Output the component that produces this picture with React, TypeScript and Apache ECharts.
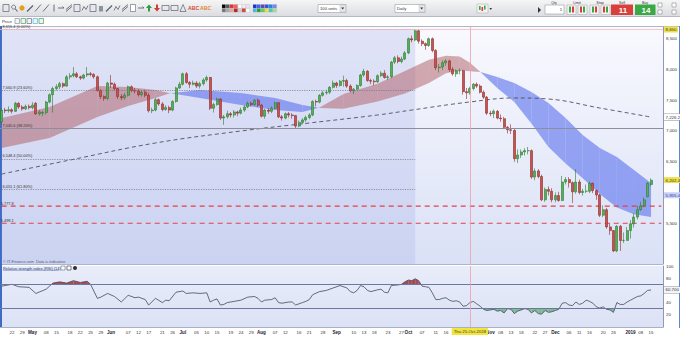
import React, { useEffect, useRef } from 'react';
import * as echarts from 'echarts';

const FONT = 'Liberation Sans, Arial, Helvetica, sans-serif';

// ---------- categories (trading days) ----------
function buildDates(count: number): string[] {
  const out: string[] = [];
  const d = new Date(Date.UTC(2018, 3, 17));
  const skip = new Set(['2018-12-25', '2019-01-01']);
  while (out.length < count) {
    const wd = d.getUTCDay();
    const s = d.toISOString().slice(0, 10);
    if (wd !== 0 && wd !== 6 && !skip.has(s)) out.push(s);
    d.setUTCDate(d.getUTCDate() + 1);
  }
  return out;
}
const N_CATS = 194;
const dates = buildDates(N_CATS);

// ---------- price candles [open, close, low, high] ----------
const candles: number[][] = [
  // Apr
  [7150, 7340, 7120, 7365], [7340, 7330, 7290, 7375], [7330, 7345, 7300, 7400], [7345, 7320, 7285, 7370],
  [7320, 7450, 7310, 7475], [7450, 7390, 7360, 7470], [7390, 7360, 7330, 7420], [7360, 7400, 7340, 7430],
  [7400, 7380, 7350, 7430], [7380, 7420, 7350, 7470],
  // May
  [7450, 7280, 7260, 7470], [7280, 7310, 7250, 7340], [7290, 7300, 7240, 7330], [7300, 7470, 7270, 7490],
  [7470, 7590, 7450, 7610], [7590, 7690, 7300, 7720], [7690, 7720, 7660, 7760], [7720, 7770, 7680, 7800],
  [7770, 7730, 7700, 7790], [7730, 7880, 7720, 7910], [7880, 7900, 7840, 7940], [7900, 7930, 7870, 8040],
  [7930, 7880, 7860, 7960], [7880, 7860, 7830, 7900], [7860, 7910, 7840, 7930], [7910, 7930, 7880, 8040],
  [7930, 7920, 7890, 7960], [7920, 7880, 7850, 7940], [7880, 7660, 7640, 7900], [7660, 7560, 7520, 7680],
  [7560, 7530, 7490, 7580], [7530, 7780, 7500, 7800], [7780, 7760, 7700, 7910],
  // Jun
  [7760, 7690, 7660, 7790], [7690, 7560, 7520, 7700], [7560, 7540, 7500, 7600], [7540, 7580, 7510, 7620],
  [7580, 7720, 7560, 7740], [7720, 7660, 7630, 7740], [7660, 7650, 7610, 7700], [7650, 7590, 7560, 7680],
  [7590, 7630, 7560, 7660], [7630, 7580, 7550, 7670], [7580, 7330, 7300, 7620], [7330, 7340, 7290, 7380],
  [7340, 7510, 7320, 7540], [7510, 7440, 7410, 7530], [7440, 7350, 7320, 7470], [7350, 7380, 7330, 7420],
  [7380, 7340, 7290, 7410], [7340, 7480, 7320, 7500], [7480, 7700, 7460, 7720], [7700, 7760, 7680, 7800],
  [7760, 7930, 7740, 7950],
  // Jul
  [7930, 7790, 7770, 7960], [7790, 7760, 7700, 7810], [7760, 7780, 7740, 7820], [7780, 7730, 7700, 7810],
  [7730, 7770, 7690, 7800], [7770, 7830, 7740, 7860], [7830, 7870, 7800, 7900], [7870, 7370, 7340, 7880],
  [7370, 7430, 7300, 7460], [7430, 7520, 7410, 7540], [7520, 7210, 7180, 7530], [7210, 7230, 7100, 7260],
  [7230, 7280, 7200, 7330], [7280, 7260, 7220, 7310], [7260, 7310, 7220, 7340], [7310, 7290, 7240, 7330],
  [7290, 7340, 7270, 7380], [7340, 7390, 7310, 7420], [7390, 7450, 7370, 7480], [7450, 7430, 7400, 7480],
  [7430, 7500, 7410, 7520], [7500, 7420, 7390, 7530],
  // Aug
  [7420, 7240, 7220, 7440], [7240, 7340, 7200, 7360], [7340, 7320, 7280, 7370], [7320, 7370, 7290, 7400],
  [7370, 7460, 7350, 7480], [7460, 7230, 7210, 7470], [7230, 7210, 7170, 7260], [7210, 7280, 7190, 7300],
  [7280, 7260, 7220, 7310], [7260, 7250, 7200, 7290], [7250, 7080, 7040, 7260], [7080, 7140, 7060, 7170],
  [7140, 7180, 7110, 7210], [7180, 7220, 7150, 7250], [7220, 7260, 7190, 7290], [7260, 7480, 7240, 7500],
  [7480, 7470, 7400, 7510], [7470, 7580, 7450, 7600], [7580, 7620, 7560, 7650], [7620, 7630, 7590, 7670],
  [7630, 7710, 7600, 7730], [7710, 7780, 7690, 7820], [7780, 7740, 7700, 7800],
  // Sep
  [7740, 7810, 7720, 7830], [7810, 7820, 7720, 7900], [7820, 7730, 7700, 7850], [7730, 7650, 7630, 7760],
  [7650, 7680, 7600, 7700], [7680, 7740, 7660, 7760], [7740, 7910, 7720, 7930], [7910, 7970, 7880, 8010],
  [7970, 7820, 7800, 7990], [7820, 7810, 7760, 7850], [7810, 7800, 7740, 7840], [7800, 7900, 7780, 7920],
  [7900, 7940, 7880, 7970], [7940, 7870, 7850, 7990], [7870, 7880, 7830, 7910], [7880, 8120, 7860, 8140],
  [8120, 8190, 8090, 8220], [8190, 8130, 8100, 8230], [8130, 8170, 8100, 8210], [8170, 8270, 8150, 8300],
  // Oct
  [8270, 8500, 8250, 8520], [8500, 8480, 8440, 8550], [8480, 8630, 8460, 8660], [8630, 8460, 8420, 8650],
  [8460, 8420, 8380, 8490], [8420, 8390, 8320, 8440], [8390, 8500, 8370, 8520], [8500, 8310, 8280, 8520],
  [8310, 8030, 7990, 8330], [8030, 8040, 7950, 8090], [8040, 8110, 7990, 8150], [8110, 8140, 8060, 8170],
  [8140, 8000, 7960, 8160], [8000, 7930, 7900, 8040], [7930, 7980, 7880, 8000], [7980, 7980, 7920, 8020],
  [7980, 7640, 7590, 8000], [7640, 7620, 7520, 7700], [7620, 7690, 7590, 7720], [7690, 7760, 7660, 7780],
  [7760, 7730, 7700, 7790], [7730, 7630, 7610, 7760], [7630, 7550, 7520, 7660],
  // Nov
  [7550, 7290, 7260, 7570], [7290, 7280, 7240, 7330], [7280, 7320, 7210, 7350], [7320, 7210, 7190, 7340],
  [7210, 7200, 7150, 7270], [7200, 7060, 7030, 7230], [7060, 7020, 6960, 7080], [7020, 7010, 6950, 7110],
  [7010, 6550, 6500, 7030], [6550, 6610, 6480, 6700], [6610, 6660, 6560, 6700], [6660, 6680, 6600, 6720],
  [6680, 6680, 6620, 6740], [6680, 6250, 6220, 6700], [6250, 6350, 6200, 6390], [6350, 6260, 6230, 6380],
  [6260, 5880, 5860, 6290], [5880, 6050, 5850, 6080], [6050, 6020, 5950, 6100], [6020, 5880, 5840, 6070],
  [5880, 5950, 5840, 6000], [5950, 5870, 5850, 6010],
  // Dec
  [5870, 6170, 5860, 6270], [6170, 6210, 6130, 6250], [6210, 6160, 6080, 6250], [6160, 6010, 5830, 6180],
  [6010, 6170, 5980, 6380], [6170, 6000, 5970, 6210], [6000, 6020, 5950, 6060], [6020, 6020, 5990, 6130],
  [6020, 6150, 5990, 6180], [6150, 6030, 5990, 6160], [6030, 5960, 5880, 6050], [5960, 5630, 5600, 5980],
  [5630, 5720, 5600, 5790], [5720, 5440, 5410, 5750], [5440, 5380, 5310, 5500], [5380, 5050, 5030, 5390],
  [5050, 5450, 5030, 5470], [5450, 5220, 5050, 5470], [5220, 5220, 5180, 5350], [5220, 5380, 5220, 5440],
  // Jan 2019
  [5380, 5490, 5250, 5550], [5490, 5600, 5430, 5660], [5600, 5720, 5560, 5780], [5720, 5780, 5700, 5850],
  [5780, 5880, 5760, 5920], [5930, 6150, 5920, 6170], [6130, 6200, 6100, 6230],
];

// ---------- indicators (read at trading-day index) ----------
const ma200Pts: [number, number][] = [
  [0, 6300], [20, 6528], [45, 6805], [70, 7000], [90, 7130], [110, 7260], [120, 7341],
  [137, 7472], [150, 7537], [160, 7520], [175, 7374], [190, 7226.2],
];
// [index, fast line, slow line]
const bandPts: [number, number, number][] = [
  [0, 7211, 6724], [14, 7390, 6886], [28, 7732, 7228], [37, 7715, 7407], [45, 7667, 7537],
  [49, 7618, 7610], [58, 7537, 7667], [70, 7423, 7618], [80, 7341, 7537], [88, 7309, 7423],
  [93, 7380, 7374], [100, 7600, 7360], [110, 7770, 7480], [118, 7975, 7610], [125, 8160, 7780],
  [130, 8225, 7940], [134, 8210, 7985], [137, 8110, 7972], [140, 7962, 7959], [145, 7699, 7878],
  [150, 7472, 7780], [155, 7120, 7634], [160, 6740, 7455], [165, 6470, 7211], [170, 6230, 6935],
  [175, 5975, 6724], [180, 5755, 6577], [185, 5645, 6366], [190, 5600, 6154],
];
const rsiPts: [number, number][] = [
  [0, 67], [3, 70], [5, 66], [8, 65], [10, 55], [13, 62], [15, 72], [17, 74], [19, 72], [21, 76],
  [23, 73], [25, 75], [26, 70], [28, 47], [29, 49], [31, 55], [33, 50], [35, 41], [37, 52], [39, 48],
  [40, 49], [42, 45], [43, 36], [45, 47], [47, 40], [48, 44], [49, 43], [51, 57], [53, 59], [54, 55],
  [56, 56], [58, 55], [60, 56], [61, 41], [62, 44], [63, 46], [64, 36], [65, 37], [66, 40], [68, 42],
  [70, 44], [72, 49], [74, 50], [75, 47], [76, 41], [77, 44], [79, 45], [80, 48], [81, 40], [82, 39],
  [84, 41], [85, 41], [86, 36], [87, 38], [88, 40], [89, 42], [90, 45], [91, 53], [93, 58], [95, 60],
  [97, 64], [99, 68], [101, 64], [102, 58], [103, 56], [104, 60], [105, 68], [106, 66], [107, 60],
  [108, 58], [110, 61], [111, 62], [112, 57], [113, 56], [114, 68], [116, 69], [117, 70], [118, 74],
  [119, 77], [120, 76], [121, 79], [122, 76], [123, 67], [124, 66], [125, 65], [126, 56], [127, 45],
  [128, 45], [129, 47], [130, 48], [131, 44], [132, 42], [133, 43], [134, 41], [135, 34], [136, 35],
  [137, 40], [138, 42], [139, 38], [140, 34], [141, 29], [142, 27], [143, 28], [144, 29], [145, 26],
  [146, 27], [147, 23], [148, 30], [149, 29], [150, 22], [151, 26], [152, 28], [153, 30], [154, 29],
  [155, 23], [156, 27], [157, 22], [158, 21], [159, 27], [160, 24], [161, 25], [162, 27], [163, 29],
  [164, 39], [165, 40], [166, 36], [167, 35], [168, 41], [169, 37], [170, 39], [171, 44], [172, 42],
  [173, 39], [174, 33], [175, 31], [176, 33], [177, 29], [178, 28], [179, 24], [180, 40], [181, 37],
  [182, 37], [183, 41], [184, 44], [185, 47], [186, 50], [187, 51], [188, 55], [189, 60], [190, 60.7],
];

const fibLevels: [number, string][] = [
  [8655.4, '8,655.4 (0.00%)'],
  [7660.9, '7,660.9 (23.60%)'],
  [7045.6, '7,045.6 (38.20%)'],
  [6548.4, '6,548.4 (50.00%)'],
  [6051.1, '6,051.1 (61.80%)'],
];
const FIB_END_IDX = 121;
const supportLevel = 7045.6;
const redLevels: [number, string][] = [[5777.8, '5,777.8'], [5499.1, '5,499.1']];
const priceTicks = [5500, 6500, 7000, 7500, 8000, 8500];
const rsiTicks = [20, 40, 80, 100];
const rsiBands = [70, 30];
const crossIdx = 137;
const crossLabel = 'Thu 25-Oct-2018';
const crossPrice = 8650;
const lastPrice = 6202.4;
const maLast = 7226.2;
const cloudLast = 5955.4;
const rsiLast = 60.7;
const xTickLabels: [number, string][] = [
  [3, '22'], [6, '29'], [9, 'May'], [13, '08'], [16, '15'], [20, '18'], [23, '22'], [26, '25'], [29, '29'],
  [32, 'Jun'], [37, '07'], [40, '12'], [43, '17'], [47, '21'], [50, '26'], [53, 'Jul'], [57, '05'],
  [60, '10'], [63, '15'], [67, '19'], [70, '24'], [73, '29'], [76, 'Aug'], [80, '07'], [83, '12'],
  [87, '16'], [90, '21'], [94, '28'], [98, 'Sep'], [103, '10'], [106, '13'], [109, '18'], [113, '23'],
  [117, '27'], [119, 'Oct'], [123, '07'], [127, '11'], [130, '16'], [143, 'Nov'], [146, '08'],
  [149, '13'], [152, '18'], [156, '22'], [159, '27'], [162, 'Dec'], [166, '06'], [169, '11'],
  [172, '16'], [176, '20'], [179, '26'], [184, '2019'], [187, '08'], [190, '15'],
];
const boldTicks = new Set(['May', 'Jun', 'Jul', 'Aug', 'Sep', 'Oct', 'Nov', 'Dec', '2019']);

// ---------- toolbar layout ----------
const toolIcons: [number, string, string?][] = [
  [3, 'box'], [11, 'mag'], [19, 'star', '#e0a020'], [27, 'pen'], [35, 'diag'], [43, 'diag'], [51, 'vline'],
  [58, 'hline'], [66, 'chan'], [74, 'box'], [82, 'zig'], [90, 'box'], [98, 'trash'], [106, 'pen'],
  [114, 'zig'], [122, 'chan'], [130, 'doc'], [138, 'hline'], [146, 'up', '#2e9e3e'], [154, 'down', '#d23a3a'],
  [162, 'rect'], [171, 'rect'], [180, 'tri'], [188, 'abc', '#d84a3a'], [200, 'abc', '#e08a2a'],
];
const pal1 = [['#000000', '#555555', '#e03030', '#f06060', '#ffffff', '#f0f0f0', '#e8e8e8'],
  ['#777777', '#aaaaaa', '#f4a0a0', '#c02020', '#d0d0d0', '#e04040', '#ffffff']];
const pal2 = [['#2030d0', '#4060f0', '#6040c0', '#3050e0', '#2080f0', '#8080f0'],
  ['#40c0e0', '#20a040', '#60d060', '#f0e040', '#40d0c0', '#a0e0a0']];

function toolIcon(x: number, k: string, c?: string): any[] {
  const col = c || '#5d6372';
  const y = 4.5;
  const ln = (x1: number, y1: number, x2: number, y2: number, w = 0.9) =>
    ({ type: 'line', shape: { x1, y1, x2, y2 }, style: { stroke: col, lineWidth: w } });
  switch (k) {
    case 'box': return [{ type: 'rect', shape: { x, y, width: 6, height: 7 }, style: { fill: '#e6e8ee', stroke: col, lineWidth: 0.7 } }];
    case 'mag': return [{ type: 'circle', shape: { cx: x + 2.6, cy: y + 2.6, r: 2 }, style: { fill: 'none', stroke: col, lineWidth: 0.8 } }, ln(x + 4, y + 4, x + 6.5, y + 7, 1.1)];
    case 'star': return [{ type: 'circle', shape: { cx: x + 3, cy: y + 3.5, r: 2.6 }, style: { fill: col } }];
    case 'pen': return [ln(x, y + 7, x + 6, y + 1, 1.3)];
    case 'diag': return [ln(x, y + 7, x + 6, y, 0.9)];
    case 'vline': return [ln(x + 3, y, x + 3, y + 7)];
    case 'hline': return [ln(x, y + 3.5, x + 6, y + 3.5), ln(x + 4.5, y + 2, x + 6, y + 3.5)];
    case 'chan': return [ln(x, y + 5, x + 6, y), ln(x, y + 7, x + 6, y + 2)];
    case 'zig': return [{ type: 'polyline', shape: { points: [[x, y + 6], [x + 2, y + 2], [x + 4, y + 5], [x + 6, y + 1]] }, style: { stroke: col, lineWidth: 0.8, fill: 'none' } }];
    case 'trash': return [{ type: 'rect', shape: { x: x + 1, y: y + 1.5, width: 4, height: 5.5 }, style: { fill: '#8d93a0' } }];
    case 'doc': return [{ type: 'rect', shape: { x: x + 0.5, y, width: 5, height: 7 }, style: { fill: '#fff', stroke: col, lineWidth: 0.6 } }];
    case 'up': return [{ type: 'polygon', shape: { points: [[x + 3, y], [x + 6, y + 3.5], [x + 4, y + 3.5], [x + 4, y + 7], [x + 2, y + 7], [x + 2, y + 3.5], [x, y + 3.5]] }, style: { fill: col } }];
    case 'down': return [{ type: 'polygon', shape: { points: [[x + 3, y + 7], [x + 6, y + 3.5], [x + 4, y + 3.5], [x + 4, y], [x + 2, y], [x + 2, y + 3.5], [x, y + 3.5]] }, style: { fill: col } }];
    case 'rect': return [{ type: 'rect', shape: { x, y: y + 1, width: 7, height: 5 }, style: { fill: 'none', stroke: col, lineWidth: 0.7 } }];
    case 'tri': return [{ type: 'polygon', shape: { points: [[x + 3, y], [x + 6, y + 7], [x, y + 7]] }, style: { fill: 'none', stroke: col, lineWidth: 0.7 } }];
    case 'abc': return [{ type: 'text', x, y: y + 3.5, style: { text: 'ABC', fontSize: 5.2, fontWeight: 'bold', fill: col, fontFamily: FONT, textVerticalAlign: 'middle' } }];
    default: return [];
  }
}

function buildGraphics(): any[] {
  const g: any[] = [];
  g.push({ type: 'rect', shape: { x: 0, y: 0, width: 680, height: 16 }, style: { fill: new echarts.graphic.LinearGradient(0, 0, 0, 1, [{ offset: 0, color: '#f5f5f6' }, { offset: 1, color: '#dcdde1' }]) } });
  g.push({ type: 'line', shape: { x1: 0, y1: 16.5, x2: 680, y2: 16.5 }, style: { stroke: '#b5b9c4', lineWidth: 1 } });
  toolIcons.forEach(([x, k, c]) => g.push(...toolIcon(x, k, c)));
  pal1.forEach((row, r) => row.forEach((col, i) => g.push({ type: 'rect', shape: { x: 222 + i * 4, y: 4.5 + r * 4, width: 3.6, height: 3.6 }, style: { fill: col, stroke: '#999', lineWidth: 0.2 } })));
  pal2.forEach((row, r) => row.forEach((col, i) => g.push({ type: 'rect', shape: { x: 253 + i * 4, y: 4.5 + r * 4, width: 3.6, height: 3.6 }, style: { fill: col, stroke: '#999', lineWidth: 0.2 } })));
  const dropdown = (x: number, w: number, text: string) => {
    g.push({ type: 'rect', shape: { x, y: 4.5, width: w, height: 8 }, style: { fill: '#ffffff', stroke: '#9a9da6', lineWidth: 0.6 } });
    g.push({ type: 'text', x: x + 2, y: 8.6, style: { text, fontSize: 4.2, fill: '#333', fontFamily: FONT, textVerticalAlign: 'middle' } });
    g.push({ type: 'rect', shape: { x: x + w - 6, y: 5, width: 5.5, height: 7 }, style: { fill: '#e6e7ea', stroke: '#b0b3bb', lineWidth: 0.4 } });
    g.push({ type: 'polygon', shape: { points: [[x + w - 4.8, 7.5], [x + w - 1.8, 7.5], [x + w - 3.3, 9.5]] }, style: { fill: '#333' } });
  };
  dropdown(318, 28, '100 units');
  dropdown(395, 30, 'Daily');
  // chart-type icon
  g.push({ type: 'rect', shape: { x: 477, y: 4, width: 11, height: 9 }, style: { fill: '#f2f2f2', stroke: '#a7aab2', lineWidth: 0.5 } });
  [[479, '#3aa845', 6, 10], [481.5, '#d9403a', 7, 11], [484, '#3aa845', 5.5, 9.5]].forEach(([x, c, y1, y2]: any) =>
    g.push({ type: 'rect', shape: { x, y: y1, width: 1.6, height: y2 - y1 }, style: { fill: c } }));
  g.push({ type: 'polygon', shape: { points: [[489.5, 8], [492, 8], [490.75, 10]] }, style: { fill: '#333' } });
  // deal ticket
  const small = (x: number, y: number, text: string) => g.push({ type: 'text', x, y, style: { text, fontSize: 3.6, fill: '#333', fontFamily: FONT, textAlign: 'center', textVerticalAlign: 'middle' } });
  g.push({ type: 'polygon', shape: { points: [[538, 7], [541, 10], [538, 13]] }, style: { fill: '#333' } });
  small(554, 2.5, 'Qty');
  g.push({ type: 'rect', shape: { x: 545, y: 5, width: 19, height: 9 }, style: { fill: '#fff', stroke: '#9a9da6', lineWidth: 0.6 } });
  g.push({ type: 'text', x: 562, y: 9.6, style: { text: '1', fontSize: 4.2, fill: '#333', fontFamily: FONT, textAlign: 'right', textVerticalAlign: 'middle' } });
  small(577, 2.5, 'Limit');
  small(600, 2.5, 'Stop');
  [567, 578, 590, 601].forEach((x, i) => {
    g.push({ type: 'rect', shape: { x, y: 5, width: 9, height: 9.5 }, style: { fill: '#f4f4f5', stroke: '#a0a3ab', lineWidth: 0.5 } });
    g.push({ type: 'rect', shape: { x: x + 2, y: 6.5, width: 2, height: 6 }, style: { fill: i % 2 ? '#d9403a' : '#3aa845' } });
    g.push({ type: 'rect', shape: { x: x + 5, y: 6.5, width: 2, height: 6 }, style: { fill: i % 2 ? '#3aa845' : '#d9403a' } });
  });
  small(622, 2.5, 'Sell');
  small(645, 2.5, 'Buy');
  g.push({ type: 'rect', shape: { x: 611, y: 4.5, width: 22, height: 10.5 }, style: { fill: '#d8413b' } });
  g.push({ type: 'rect', shape: { x: 635, y: 4.5, width: 20.5, height: 10.5 }, style: { fill: '#3aa845' } });
  g.push({ type: 'text', x: 623, y: 10, style: { text: '11', fontSize: 8, fontWeight: 'bold', fill: '#fff', fontFamily: FONT, textAlign: 'center', textVerticalAlign: 'middle' } });
  g.push({ type: 'text', x: 646, y: 10, style: { text: '14', fontSize: 8, fontWeight: 'bold', fill: '#fff', fontFamily: FONT, textAlign: 'center', textVerticalAlign: 'middle' } });
  [[658, 3], [658, 10], [672, 3], [672, 10]].forEach(([x, y]) =>
    g.push({ type: 'rect', shape: { x, y, width: 4, height: 4 }, style: { fill: '#fff', stroke: '#777', lineWidth: 0.5 } }));
  // price row
  g.push({ type: 'text', x: 2, y: 21.3, style: { text: 'Price', fontSize: 4.3, fill: '#333', fontFamily: FONT, textVerticalAlign: 'middle' } });
  [[15, '#8d93a0'], [21, '#4aa05a'], [27, '#6a7080'], [33, '#58b7d8'], [39, '#4aa05a']].forEach(([x, c]: any) =>
    g.push({ type: 'rect', shape: { x, y: 18.5, width: 4.5, height: 5 }, style: { fill: '#f2f3f6', stroke: c, lineWidth: 0.7 } }));
  // frame lines
  g.push({ type: 'line', shape: { x1: 0, y1: 26.5, x2: 680, y2: 26.5 }, style: { stroke: '#b2b7c7', lineWidth: 1 } });
  g.push({ type: 'line', shape: { x1: 0, y1: 264.5, x2: 663, y2: 264.5 }, style: { stroke: '#aeb4cc', lineWidth: 1 } });
  g.push({ type: 'rect', shape: { x: 0, y: 26, width: 2, height: 302 }, style: { fill: '#3e6cc4' } });
  g.push({ type: 'line', shape: { x1: 679.5, y1: 26, x2: 679.5, y2: 328 }, style: { stroke: '#5b86d6', lineWidth: 1 } });
  // footer/header texts
  g.push({ type: 'text', x: 3, y: 261.2, style: { text: '© IT-Finance.com  Data is indicative', fontSize: 3.9, fill: '#333', fontFamily: FONT, textVerticalAlign: 'middle' } });
  g.push({ type: 'text', x: 3, y: 268, style: { text: 'Relative strength index (RSI) (14)', fontSize: 3.9, fill: '#253a84', fontFamily: FONT, textVerticalAlign: 'middle' } });
  g.push({ type: 'line', shape: { x1: 3, y1: 270.3, x2: 59, y2: 270.3 }, style: { stroke: '#253a84', lineWidth: 0.4 } });
  [[61, '#6a7080'], [67, '#333'], [73, '#333']].forEach(([x, c]: any, i) =>
    i === 2
      ? g.push({ type: 'circle', shape: { cx: x + 2, cy: 268, r: 2 }, style: { fill: c } })
      : g.push({ type: 'rect', shape: { x, y: 266, width: 4, height: 4 }, style: { fill: '#fff', stroke: c, lineWidth: 0.6 } }));
  return g;
}

function buildOption(): any {
  const labelMap = new Map(xTickLabels);
  const maData = ma200Pts.map(([i, v]) => [dates[i], v]);
  const rsiData = rsiPts.map(([i, v]) => [dates[i], v]);
  const RED_BAND = 'rgba(172,84,90,0.48)';
  const BLUE_BAND = 'rgba(112,132,238,0.72)';
  const poly = (pts: number[][], fill: string) => ({ type: 'polygon', shape: { points: pts }, style: { fill } });
  const hidden = { color: 'rgba(0,0,0,0)', width: 0 };
  const endLabel = (text: string, bg: string, color: string, border?: string) => ({
    show: true, position: 'end', formatter: text, backgroundColor: bg, color, fontSize: 4.4,
    padding: [1, 1.5], distance: 1, borderColor: border || bg, borderWidth: border ? 0.5 : 0, fontFamily: FONT,
  });
  const tinyStart = (text: string) => ({
    show: true, position: 'insideStartTop', formatter: text, fontSize: 3.9, color: '#333', distance: 0.8, fontFamily: FONT,
  });

  const bandSeries = {
    type: 'custom', xAxisIndex: 0, yAxisIndex: 0, z: 2, silent: true, clip: true,
    data: bandPts.slice(0, -1).map((p) => [p[0], p[1]]),
    encode: { x: 0, y: 1 },
    renderItem: (params: any, api: any) => {
      const i = params.dataIndex;
      const a = bandPts[i];
      const b = bandPts[i + 1];
      const fa = api.coord([a[0], a[1]]);
      const sa = api.coord([a[0], a[2]]);
      const fb = api.coord([b[0], b[1]]);
      const sb = api.coord([b[0], b[2]]);
      const d0 = a[1] - a[2];
      const d1 = b[1] - b[2];
      const children: any[] = [];
      if (d0 * d1 < 0) {
        const t = d0 / (d0 - d1);
        const c = [fa[0] + t * (fb[0] - fa[0]), fa[1] + t * (fb[1] - fa[1])];
        children.push(poly([fa, c, sa], d0 > 0 ? RED_BAND : BLUE_BAND));
        children.push(poly([c, fb, sb], d1 > 0 ? RED_BAND : BLUE_BAND));
      } else {
        children.push(poly([fa, fb, sb, sa], d0 + d1 > 0 ? RED_BAND : BLUE_BAND));
      }
      return { type: 'group', children };
    },
  };

  const rsiFill = {
    type: 'custom', xAxisIndex: 1, yAxisIndex: 1, z: 2, silent: true,
    data: rsiPts.slice(0, -1).map((p) => [p[0], p[1]]),
    encode: { x: 0, y: 1 },
    renderItem: (params: any, api: any) => {
      const i = params.dataIndex;
      const a = rsiPts[i];
      const b = rsiPts[i + 1];
      const pa = api.coord([a[0], a[1]]);
      const pb = api.coord([b[0], b[1]]);
      const children: any[] = [];
      const addSide = (level: number, above: boolean, fill: string) => {
        const f0 = above ? a[1] - level : level - a[1];
        const f1 = above ? b[1] - level : level - b[1];
        if (f0 <= 0 && f1 <= 0) return;
        const ly = api.coord([a[0], level])[1];
        if (f0 >= 0 && f1 >= 0) {
          children.push(poly([pa, pb, [pb[0], ly], [pa[0], ly]], fill));
          return;
        }
        const t = f0 / (f0 - f1);
        const cx = pa[0] + t * (pb[0] - pa[0]);
        if (f0 > 0) children.push(poly([pa, [cx, ly], [pa[0], ly]], fill));
        else children.push(poly([[cx, ly], pb, [pb[0], ly]], fill));
      };
      addSide(rsiBands[0], true, 'rgba(150,48,54,0.85)');
      addSide(rsiBands[1], false, 'rgba(92,170,110,0.75)');
      return { type: 'group', children };
    },
  };

  // red dashed support lines as their own line series
  const redSeries = redLevels.map(([v, txt]) => ({
    type: 'line', xAxisIndex: 0, yAxisIndex: 0, silent: true, z: 3,
    data: [[dates[0], v], [dates[N_CATS - 1], v]],
    symbol: 'none', showSymbol: false,
    lineStyle: { color: '#e2404b', width: 1.1, type: [5, 4], opacity: 1 },
    markLine: {
      symbol: ['none', 'none'], silent: true, animation: false,
      data: [{ yAxis: v, lineStyle: { color: 'rgba(0,0,0,0)', width: 0 }, label: tinyStart(txt) }],
    },
  }));

  return {
    animation: false,
    backgroundColor: '#ffffff',
    textStyle: { fontFamily: FONT },
    graphic: { elements: buildGraphics() },
    grid: [
      {
        left: 0, top: 27, width: 663, height: 237, show: true, borderWidth: 0,
        backgroundColor: new echarts.graphic.LinearGradient(0, 0, 0, 1, [{ offset: 0, color: '#f9f9fe' }, { offset: 1, color: '#dae1f6' }]),
      },
      {
        left: 0, top: 266, width: 663, height: 61, show: true, borderWidth: 0,
        backgroundColor: new echarts.graphic.LinearGradient(0, 0, 0, 1, [{ offset: 0, color: '#e9ecf9' }, { offset: 1, color: '#dce2f5' }]),
      },
    ],
    xAxis: [
      {
        type: 'category', gridIndex: 0, data: dates, boundaryGap: true,
        axisLine: { show: false }, axisTick: { show: false }, axisLabel: { show: false }, splitLine: { show: false },
      },
      {
        type: 'category', gridIndex: 1, data: dates, boundaryGap: true,
        axisLine: { show: true, lineStyle: { color: '#a9b0c8', width: 1 } }, axisTick: { show: false }, splitLine: { show: false },
        axisLabel: {
          interval: (index: number) => labelMap.has(index),
          formatter: (_v: string, index: number) => {
            const t = labelMap.get(index) || '';
            return boldTicks.has(t) ? `{b|${t}}` : t;
          },
          fontSize: 4.4, color: '#333', margin: 3, fontFamily: FONT,
          rich: { b: { fontWeight: 'bold', fontSize: 4.6, color: '#1d2333', fontFamily: FONT } },
        },
      },
    ],
    yAxis: [
      {
        type: 'value', gridIndex: 0, position: 'right', min: 4837, max: 8691,
        axisLine: { show: true, lineStyle: { color: '#8f98b6' } }, axisTick: { show: false }, splitLine: { show: false },
        axisLabel: { customValues: priceTicks, formatter: (v: number) => v.toLocaleString('en-US'), fontSize: 4.4, color: '#333', margin: 3, fontFamily: FONT },
      },
      {
        type: 'value', gridIndex: 1, position: 'right', min: 0, max: 100,
        axisLine: { show: true, lineStyle: { color: '#8f98b6' } }, axisTick: { show: false }, splitLine: { show: false },
        axisLabel: { customValues: rsiTicks, fontSize: 4.4, color: '#333', margin: 3, fontFamily: FONT },
      },
    ],
    series: [
      bandSeries,
      {
        type: 'line', name: 'MA', xAxisIndex: 0, yAxisIndex: 0, data: maData, smooth: 0.4,
        symbol: 'none', showSymbol: false, silent: true, z: 3,
        lineStyle: { color: '#4b5062', width: 0.9, type: [4, 3] },
        markArea: {
          silent: true, label: { show: false },
          itemStyle: { color: 'rgba(170,180,232,0.30)' },
          data: [[{ coord: [dates[0], fibLevels[0][0]] }, { coord: [dates[FIB_END_IDX], 4837] }]],
        },
        markLine: {
          symbol: ['none', 'none'], silent: true, animation: false,
          label: { show: false },
          data: [
            ...fibLevels.map(([v, txt]) => [
              { coord: [dates[0], v], lineStyle: { color: '#6e7283', width: 0.7, type: [1.2, 1.2] }, label: tinyStart(txt) },
              { coord: [dates[FIB_END_IDX], v], lineStyle: { color: '#6e7283', width: 0.7, type: [1.2, 1.2] } },
            ]),
            { yAxis: supportLevel, lineStyle: { color: '#8b8e9b', width: 1, type: 'solid' } },
            { xAxis: dates[crossIdx], lineStyle: { color: '#eba1a7', width: 0.8, type: 'solid' } },
            { yAxis: crossPrice, lineStyle: { color: '#f2b9be', width: 0.8, type: 'solid' }, label: endLabel('8,650', '#efe24a', '#333') },
            { yAxis: maLast, lineStyle: hidden, label: endLabel('7,226.2', '#ffffff', '#333', '#8a8f9f') },
            { yAxis: lastPrice, lineStyle: hidden, label: endLabel('6,202.4', '#efe24a', '#333') },
            { yAxis: cloudLast, lineStyle: hidden, label: endLabel('5,955.4', '#c9d1f6', '#2f3fae') },
          ],
        },
      },
      ...redSeries,
      {
        type: 'candlestick', name: 'Price', xAxisIndex: 0, yAxisIndex: 0, data: candles, z: 4, silent: true,
        barWidth: 2.5,
        itemStyle: { color: '#52b055', color0: '#c9514e', borderColor: '#2d7a31', borderColor0: '#8b2c29', borderWidth: 0.6 },
      },
      rsiFill,
      {
        type: 'line', name: 'RSI', xAxisIndex: 1, yAxisIndex: 1, data: rsiData, symbol: 'none', showSymbol: false,
        silent: true, z: 4, lineStyle: { color: '#454a5b', width: 0.8 },
        markLine: {
          symbol: ['none', 'none'], silent: true, animation: false, label: { show: false },
          data: [
            ...rsiBands.map((v) => ({ yAxis: v, lineStyle: { color: '#6b78a3', width: 1, type: 'solid' } })),
            {
              xAxis: dates[crossIdx], lineStyle: { color: '#eba1a7', width: 0.8, type: 'solid' },
              label: { show: true, position: 'start', formatter: crossLabel, backgroundColor: '#f1e53e', color: '#333', fontSize: 4.3, padding: [1.5, 2], distance: 1, fontFamily: FONT },
            },
            { yAxis: rsiLast, lineStyle: hidden, label: endLabel('60.700', '#f3f4f8', '#333', '#8a8f9f') },
          ],
        },
      },
    ],
  };
}

export default function App() {
  const ref = useRef<HTMLDivElement>(null);
  useEffect(() => {
    if (!ref.current) return;
    const chart = echarts.init(ref.current, undefined, { renderer: 'svg' });
    chart.setOption(buildOption());
    return () => chart.dispose();
  }, []);
  return (
    <div
      ref={ref}
      style={{ position: 'fixed', left: 0, top: 0, width: 680, height: 337, background: '#ffffff' }}
    />
  );
}
